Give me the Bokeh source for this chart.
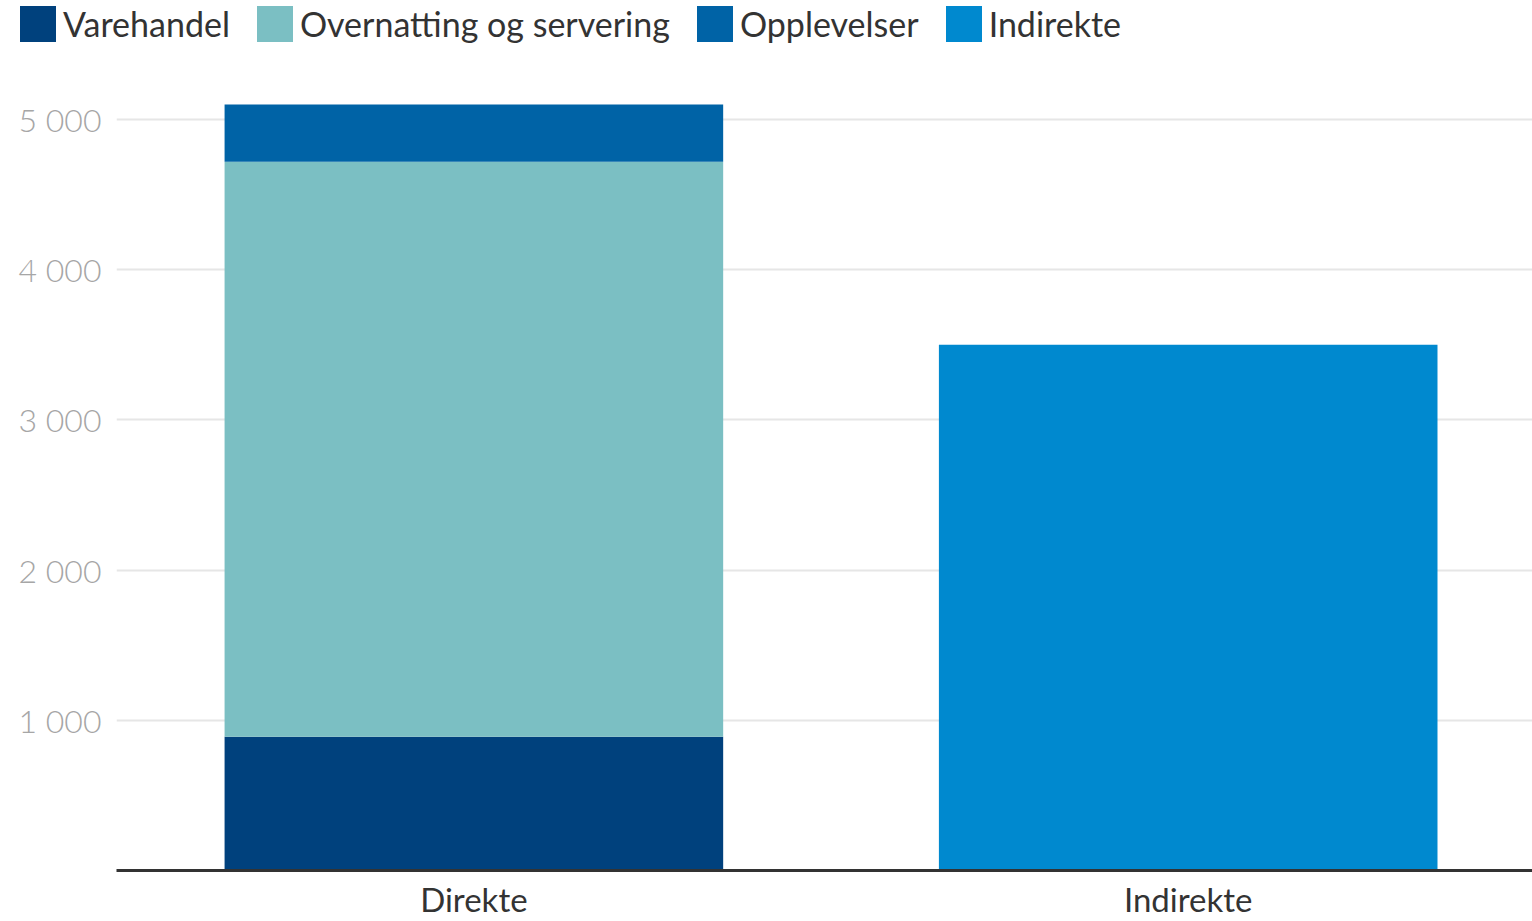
from bokeh.plotting import figure
from bokeh.models import Range1d, FixedTicker, Legend, LegendItem, ColumnDataSource
from bokeh.layouts import column
from bokeh.embed import file_html
from bokeh.resources import INLINE

categories = ["Direkte", "Indirekte"]
varehandel = [890, 0]
overnatting = [3830, 0]
opplevelser = [380, 0]
indirekte = [0, 3500]
series_names = ["Varehandel", "Overnatting og servering", "Opplevelser", "Indirekte"]
stack_keys = ["Varehandel", "Overnatting", "Opplevelser", "Indirekte"]
colors = ["#00417d", "#7bbfc3", "#0063a6", "#0089cf"]
y_ticks = [1000, 2000, 3000, 4000, 5000]
y_tick_labels = ["1 000", "2 000", "3 000", "4 000", "5 000"]

FONT = "Lato"
LIGHT = "Lato Light"

src = ColumnDataSource(dict(
    x=list(range(len(categories))),
    Varehandel=varehandel,
    Overnatting=overnatting,
    Opplevelser=opplevelser,
    Indirekte=indirekte,
))

LEG_H = 50

# ---- legend strip (same series, renderers hidden; only legend swatches shown) ----
leg = figure(width=1532, height=LEG_H, output_backend="svg", toolbar_location=None,
             x_range=Range1d(-0.5, 1.5), y_range=Range1d(0, 5460),
             min_border_left=0, min_border_right=0, min_border_top=0, min_border_bottom=0)
leg.frame_align = False
leg.axis.visible = False
leg.grid.visible = False
leg.outline_line_color = None
leg_renderers = leg.vbar_stack(stack_keys, x="x", width=0.698, color=colors,
                               line_alpha=0, source=src)
for r in leg_renderers:
    r.visible = False
items = [LegendItem(label=n, renderers=[r]) for n, r in zip(series_names, leg_renderers)]
legend = Legend(items=items, orientation="horizontal", location=(15, 4),
                glyph_width=45, glyph_height=45, label_height=45, label_standoff=3,
                spacing=22, padding=0, margin=0, border_line_color=None,
                background_fill_alpha=0, inactive_fill_alpha=0, label_text_font=FONT,
                label_text_font_size="34px", label_text_color="#333333")
leg.add_layout(legend, "center")

# ---- main chart ----
p = figure(width=1532, height=921 - LEG_H, output_backend="svg", toolbar_location=None,
           x_range=Range1d(-0.5003, 1.482), y_range=Range1d(0, 5460),
           min_border_left=116, min_border_right=0, min_border_top=0, min_border_bottom=0)
p.frame_align = False
p.outline_line_color = None
p.background_fill_color = "white"

p.vbar_stack(stack_keys, x="x", width=0.698, color=colors, line_alpha=0, source=src)

p.xaxis.ticker = FixedTicker(ticks=list(range(len(categories))))
p.xaxis.major_label_overrides = {i: c for i, c in enumerate(categories)}
p.xaxis.axis_line_color = "#333333"
p.xaxis.axis_line_width = 3
p.xaxis.major_tick_line_color = None
p.xaxis.minor_tick_line_color = None
p.xaxis.major_label_text_font = FONT
p.xaxis.major_label_text_font_size = "33px"
p.xaxis.major_label_text_color = "#333333"
p.xaxis.major_label_standoff = 2

p.yaxis.ticker = FixedTicker(ticks=y_ticks)
p.yaxis.major_label_overrides = {t: l for t, l in zip(y_ticks, y_tick_labels)}
p.yaxis.axis_line_color = None
p.yaxis.major_tick_line_color = None
p.yaxis.minor_tick_line_color = None
p.yaxis.major_label_text_font = LIGHT
p.yaxis.major_label_text_font_size = "32px"
p.yaxis.major_label_text_color = "#a6a6a6"
p.yaxis.major_label_standoff = 9

p.xgrid.grid_line_color = None
p.ygrid.grid_line_color = "#e6e6e6"
p.ygrid.grid_line_width = 2

layout = column(leg, p, spacing=0)
open("out.html", "w").write(file_html(layout, INLINE))
